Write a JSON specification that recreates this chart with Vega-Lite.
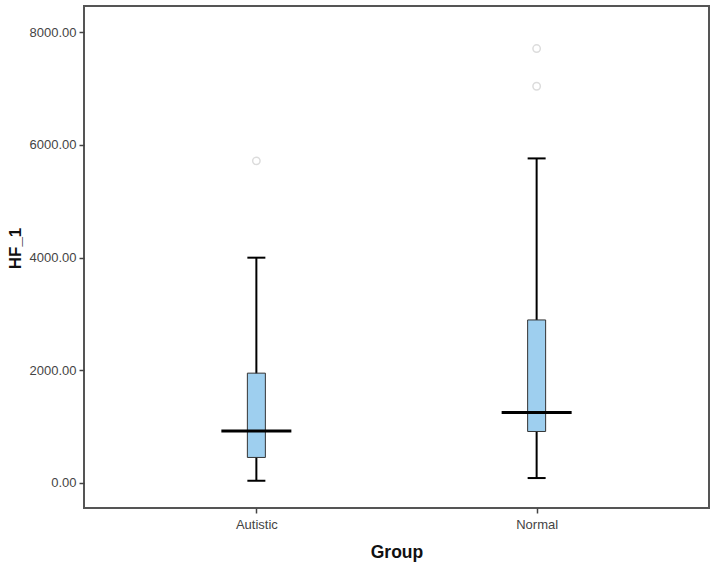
{
  "$schema": "https://vega.github.io/schema/vega-lite/v6.json",
  "width": 625,
  "height": 502,
  "autosize": "none",
  "padding": {"left": 84, "top": 6, "right": 8, "bottom": 62},
  "background": "white",
  "config": {
    "font": "Liberation Sans",
    "view": {"stroke": "#555555", "strokeWidth": 2},
    "axis": {
      "labelFont": "Liberation Sans",
      "labelFontSize": 13,
      "labelColor": "#444444",
      "tickColor": "#444444",
      "tickSize": 5,
      "tickWidth": 1.5,
      "domain": false,
      "grid": false,
      "titleFont": "Liberation Sans",
      "titleFontWeight": "bold",
      "titleColor": "#111111"
    },
    "axisY": {"labelPadding": 3, "titleX": -60, "titleY": 242, "titleFontSize": 17},
    "axisX": {"labelAngle": 0, "labelPadding": 5, "titleBaseline": "top", "titleY": 35, "titleFontSize": 17.5}
  },
  "datasets": {
    "stats": [
      {"Group": "Autistic", "lower": 35, "q1": 449, "median": 917, "q3": 1946, "upper": 3997},
      {"Group": "Normal", "lower": 83, "q1": 910, "median": 1247, "q3": 2891, "upper": 5760}
    ],
    "outliers": [
      {"Group": "Autistic", "HF_1": 5717},
      {"Group": "Normal", "HF_1": 7042},
      {"Group": "Normal", "HF_1": 7711}
    ]
  },
  "layer": [
    {
      "data": {"name": "stats"},
      "mark": {"type": "rule", "color": "black", "strokeWidth": 2},
      "encoding": {
        "x": {"field": "Group", "type": "nominal", "title": "Group", "sort": ["Autistic", "Normal"], "scale": {"type": "point", "padding": 0.615, "domain": ["Autistic", "Normal"]}},
        "y": {"field": "lower", "type": "quantitative", "title": "HF_1", "scale": {"domain": [-449, 8467], "nice": false, "zero": false}, "axis": {"values": [0, 2000, 4000, 6000, 8000], "format": ".2f"}},
        "y2": {"field": "upper"}
      }
    },
    {
      "data": {"name": "stats"},
      "mark": {"type": "bar", "size": 18, "fill": "#9ECFEF", "stroke": "#333333", "strokeWidth": 1},
      "encoding": {
        "x": {"field": "Group", "type": "nominal", "title": "Group"},
        "y": {"field": "q1", "type": "quantitative", "title": "HF_1"},
        "y2": {"field": "q3"}
      }
    },
    {
      "data": {"name": "stats"},
      "mark": {"type": "tick", "size": 18, "thickness": 2, "color": "black", "opacity": 1},
      "encoding": {
        "x": {"field": "Group", "type": "nominal", "title": "Group"},
        "y": {"field": "lower", "type": "quantitative", "title": "HF_1"}
      }
    },
    {
      "data": {"name": "stats"},
      "mark": {"type": "tick", "size": 18, "thickness": 2, "color": "black", "opacity": 1},
      "encoding": {
        "x": {"field": "Group", "type": "nominal", "title": "Group"},
        "y": {"field": "upper", "type": "quantitative", "title": "HF_1"}
      }
    },
    {
      "data": {"name": "stats"},
      "mark": {"type": "tick", "size": 70, "thickness": 3, "color": "black", "opacity": 1},
      "encoding": {
        "x": {"field": "Group", "type": "nominal", "title": "Group"},
        "y": {"field": "median", "type": "quantitative", "title": "HF_1"}
      }
    },
    {
      "data": {"name": "outliers"},
      "mark": {"type": "point", "shape": "circle", "size": 55, "filled": false, "stroke": "#DCDCDC", "strokeWidth": 1.5, "opacity": 1},
      "encoding": {
        "x": {"field": "Group", "type": "nominal", "title": "Group"},
        "y": {"field": "HF_1", "type": "quantitative", "title": "HF_1"}
      }
    }
  ]
}
